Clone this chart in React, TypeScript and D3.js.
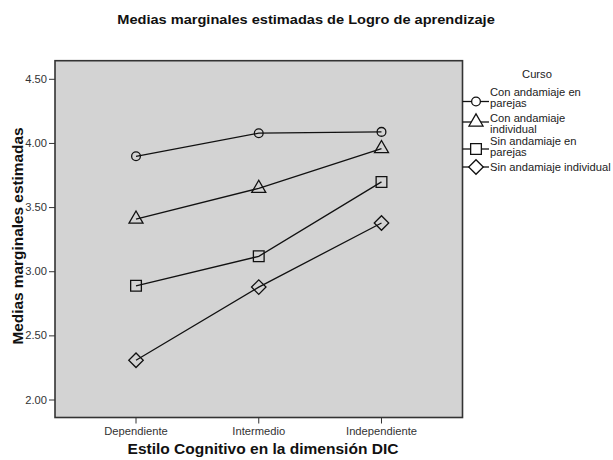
import React from "react";
import * as d3 from "d3";

// Categories on the x axis
const estilos = ["Dependiente", "Intermedio", "Independiente"];

// Estimated marginal means per course group
const conParejas = [3.9, 4.08, 4.09];
const conIndividual = [3.41, 3.65, 3.96];
const sinParejas = [2.89, 3.12, 3.7];
const sinIndividual = [2.31, 2.88, 3.38];

const yTicks = [2.0, 2.5, 3.0, 3.5, 4.0, 4.5];

const series = [
  { lines: ["Con andamiaje en", "parejas"], values: conParejas, symbol: d3.symbolCircle, size: 60, rot: 0 },
  { lines: ["Con andamiaje", "individual"], values: conIndividual, symbol: d3.symbolTriangle, size: 85, rot: 0 },
  { lines: ["Sin andamiaje en", "parejas"], values: sinParejas, symbol: d3.symbolSquare, size: 115, rot: 0 },
  { lines: ["Sin andamiaje individual"], values: sinIndividual, symbol: d3.symbolSquare, size: 105, rot: 45 },
];

const W = 613;
const H = 460;
const left = 55;
const right = 462.5;
const top = 60.7;
const bottom = 417.5;
const font = "Liberation Sans, Arial, sans-serif";

// text slightly stretched horizontally, like the scanned original
const T = ({ x, y, children, anchor = "start", size = 10, bold = false, sx = 1.12, rotate = 0, fill = "#222" }: any) => (
  <text
    transform={`translate(${x},${y}) rotate(${rotate}) scale(${sx},1)`}
    textAnchor={anchor}
    fontFamily={font}
    fontSize={size}
    fontWeight={bold ? "bold" : "normal"}
    fill={fill}
  >
    {children}
  </text>
);

const App = () => {
  const x = d3.scalePoint<string>().domain(estilos).range([left, right]).padding(0.66);
  const y = d3.scaleLinear().domain([2, 4.5]).range([400, 79.3]);
  const line = d3
    .line<number>()
    .x((_, i) => x(estilos[i]) as number)
    .y((d) => y(d));

  const legendY = [101.5, 122, 149, 167];
  const textY = [
    [96, 106.5],
    [121.5, 132.5],
    [145, 156],
    [171],
  ];

  return (
    <svg width={W} height={H} style={{ position: "absolute", left: 0, top: 0, background: "#fff" }}>
      <T x={306} y={24} anchor="middle" size={13.5} bold sx={1.08} fill="#111">
        Medias marginales estimadas de Logro de aprendizaje
      </T>

      <rect x={left} y={top} width={right - left} height={bottom - top} fill="#d3d3d3" stroke="#333" strokeWidth={1.6} />

      {/* Y axis */}
      {yTicks.map((t) => (
        <g key={t}>
          <line x1={left - 6} x2={left} y1={y(t)} y2={y(t)} stroke="#333" strokeWidth={1} />
          <T x={left - 8} y={y(t) + 3.5} anchor="end" fill="#333">
            {t.toFixed(2)}
          </T>
        </g>
      ))}
      <T x={23} y={236} rotate={-90} anchor="middle" size={14} bold sx={1.1} fill="#111">
        Medias marginales estimadas
      </T>

      {/* X axis */}
      {estilos.map((c) => (
        <g key={c}>
          <line x1={x(c)} x2={x(c)} y1={bottom} y2={bottom + 6} stroke="#333" strokeWidth={1} />
          <T x={x(c)} y={435} anchor="middle" fill="#333">
            {c}
          </T>
        </g>
      ))}
      <T x={263} y={454} anchor="middle" size={14} bold sx={1.11} fill="#111">
        Estilo Cognitivo en la dimensión DIC
      </T>

      {/* Series */}
      {series.map((s, k) => (
        <g key={k}>
          <path d={line(s.values) as string} fill="none" stroke="#111" strokeWidth={1.3} />
          {s.values.map((v, i) => (
            <path
              key={i}
              d={d3.symbol().type(s.symbol).size(s.size)() as string}
              transform={`translate(${x(estilos[i])},${y(v)}) rotate(${s.rot})`}
              fill="none"
              stroke="#111"
              strokeWidth={1.3}
            />
          ))}
        </g>
      ))}

      {/* Legend */}
      <T x={537} y={78} anchor="middle">
        Curso
      </T>
      {series.map((s, k) => (
        <g key={k}>
          <line x1={right} x2={489} y1={legendY[k]} y2={legendY[k]} stroke="#111" strokeWidth={1.3} />
          <path
            d={d3.symbol().type(s.symbol).size(s.size)() as string}
            transform={`translate(476,${legendY[k]}) rotate(${s.rot})`}
            fill="#fff"
            stroke="#111"
            strokeWidth={1.3}
          />
          {s.lines.map((t, j) => (
            <T key={j} x={490} y={textY[k][j]}>
              {t}
            </T>
          ))}
        </g>
      ))}
    </svg>
  );
};

export default App;
